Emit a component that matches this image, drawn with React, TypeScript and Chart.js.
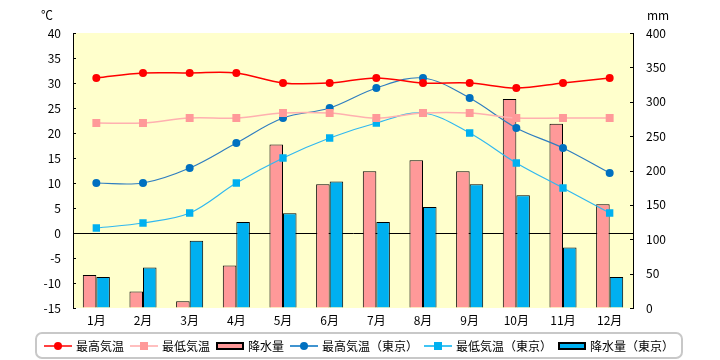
import React, { useEffect, useRef } from "react";
import { Chart, registerables } from "chart.js";

Chart.register(...registerables);

const months = ["1月", "2月", "3月", "4月", "5月", "6月", "7月", "8月", "9月", "10月", "11月", "12月"];
const maxTemp = [31, 32, 32, 32, 30, 30, 31, 30, 30, 29, 30, 31];
const minTemp = [22, 22, 23, 23, 24, 24, 23, 24, 24, 23, 23, 23];
const rain = [48, 24, 10, 62, 238, 180, 199, 215, 199, 304, 268, 151];
const tokyoMax = [10, 10, 13, 18, 23, 25, 29, 31, 27, 21, 17, 12];
const tokyoMin = [1, 2, 4, 10, 15, 19, 22, 24, 20, 14, 9, 4];
const tokyoRain = [45, 59, 98, 125, 138, 184, 125, 147, 180, 164, 88, 45];

const seriesNames = ["最高気温", "最低気温", "降水量", "最高気温（東京）", "最低気温（東京）", "降水量（東京）"];

const FONT = '"Noto Sans CJK JP", "Noto Sans", sans-serif';

function makeIcon(kind: string, lineColor: string, fill: string): HTMLCanvasElement {
  const c = document.createElement("canvas");
  c.width = 28;
  c.height = 12;
  const ctx = c.getContext("2d")!;
  if (kind === "bar") {
    ctx.fillStyle = fill;
    ctx.fillRect(1, 3, 26, 6);
    ctx.strokeStyle = "#000";
    ctx.lineWidth = 2;
    ctx.strokeRect(1, 3, 26, 6);
  } else {
    ctx.strokeStyle = lineColor;
    ctx.lineWidth = 1.5;
    ctx.beginPath();
    ctx.moveTo(0, 6);
    ctx.lineTo(28, 6);
    ctx.stroke();
    ctx.fillStyle = fill;
    if (kind === "circle") {
      ctx.beginPath();
      ctx.arc(14, 6, 4, 0, Math.PI * 2);
      ctx.fill();
    } else {
      ctx.fillRect(10, 2, 8, 8);
    }
  }
  return c;
}

const bgPlugin = {
  id: "bgPlugin",
  beforeDraw(chart: any) {
    const { ctx, chartArea } = chart;
    ctx.save();
    ctx.fillStyle = "#FFFFCC";
    ctx.fillRect(chartArea.left, chartArea.top, chartArea.right - chartArea.left, chartArea.bottom - chartArea.top);
    ctx.restore();
  },
  afterDraw(chart: any) {
    const { ctx, chartArea } = chart;
    ctx.save();
    // inward tick marks
    ctx.strokeStyle = "#000";
    ctx.lineWidth = 1;
    const y = chart.scales.y;
    const y1 = chart.scales.y1;
    y.ticks.forEach((t: any) => {
      const p = Math.round(y.getPixelForValue(t.value)) + 0.5;
      ctx.beginPath();
      ctx.moveTo(chartArea.left, p);
      ctx.lineTo(chartArea.left + 3, p);
      ctx.stroke();
    });
    y1.ticks.forEach((t: any) => {
      const p = Math.round(y1.getPixelForValue(t.value)) + 0.5;
      ctx.beginPath();
      ctx.moveTo(chartArea.right - 3, p);
      ctx.lineTo(chartArea.right, p);
      ctx.stroke();
    });
    // unit labels
    ctx.fillStyle = "#000";
    ctx.font = "12px " + FONT;
    ctx.textAlign = "center";
    ctx.textBaseline = "middle";
    ctx.fillText("℃", 47, 15);
    ctx.fillText("mm", 658, 15);
    // legend frame
    const lg = chart.legend;
    if (lg && lg.legendHitBoxes && lg.legendHitBoxes.length) {
      const boxes = lg.legendHitBoxes;
      const l = boxes[0].left - 10;
      const last = boxes[boxes.length - 1];
      const r = last.left + last.width + 8;
      const top = boxes[0].top - 7;
      const h = 25;
      ctx.strokeStyle = "#C8C8C8";
      ctx.lineWidth = 2;
      ctx.beginPath();
      (ctx as any).roundRect(l, top, r - l, h, 6);
      ctx.stroke();
    }
    ctx.restore();
  },
};

export default function App() {
  const ref = useRef<HTMLCanvasElement>(null);
  useEffect(() => {
    const icons = [
      makeIcon("circle", "#FF0000", "#FF0000"),
      makeIcon("square", "#FFAAAA", "#FF9999"),
      makeIcon("bar", "#000", "#FF9999"),
      makeIcon("circle", "#0070C0", "#0070C0"),
      makeIcon("square", "#00B0F0", "#00B0F0"),
      makeIcon("bar", "#000", "#00B0F0"),
    ];
    const chart = new Chart(ref.current!, {
      type: "bar",
      data: {
        labels: months,
        datasets: [
          {
            type: "line",
            label: seriesNames[0],
            data: maxTemp,
            yAxisID: "y",
            borderColor: "#FF0000",
            backgroundColor: "#FF0000",
            borderWidth: 1.5,
            pointStyle: "circle",
            pointRadius: 4,
            pointBorderWidth: 0,
            tension: 0.35,
            order: 0,
          },
          {
            type: "line",
            label: seriesNames[1],
            data: minTemp,
            yAxisID: "y",
            borderColor: "#FFB0B0",
            backgroundColor: "#FF9999",
            borderWidth: 1.5,
            pointStyle: "rect",
            pointRadius: 5.6,
            pointBorderWidth: 0,
            tension: 0.35,
            order: 0,
          },
          {
            type: "bar",
            label: seriesNames[2],
            data: rain,
            yAxisID: "y1",
            backgroundColor: "#FF9999",
            borderColor: "#000",
            borderWidth: 1,
            order: 1,
          },
          {
            type: "line",
            label: seriesNames[3],
            data: tokyoMax,
            yAxisID: "y",
            borderColor: "#2E7DC0",
            backgroundColor: "#0070C0",
            borderWidth: 1.2,
            pointStyle: "circle",
            pointRadius: 4,
            pointBorderWidth: 0,
            tension: 0.35,
            order: 0,
          },
          {
            type: "line",
            label: seriesNames[4],
            data: tokyoMin,
            yAxisID: "y",
            borderColor: "#30B8F0",
            backgroundColor: "#00B0F0",
            borderWidth: 1.2,
            pointStyle: "rect",
            pointRadius: 5.2,
            pointBorderWidth: 0,
            tension: 0.35,
            order: 0,
          },
          {
            type: "bar",
            label: seriesNames[5],
            data: tokyoRain,
            yAxisID: "y1",
            backgroundColor: "#00B0F0",
            borderColor: "#000",
            borderWidth: 1,
            order: 1,
          },
        ] as any,
      },
      options: {
        responsive: false,
        animation: false,
        layout: { padding: { top: 33, left: 0, right: 0, bottom: -2 } },
        datasets: { bar: { barPercentage: 1, categoryPercentage: 0.58 } } as any,
        plugins: {
          tooltip: { enabled: false },
          legend: {
            position: "bottom",
            labels: {
              usePointStyle: true,
              pointStyleWidth: 24,
              padding: 8,
              color: "#000",
              font: { family: FONT, size: 12 },
              generateLabels: (chart: any) =>
                chart.data.datasets.map((ds: any, i: number) => ({
                  text: ds.label,
                  pointStyle: icons[i],
                  datasetIndex: i,
                  hidden: false,
                  fontColor: "#000",
                  lineWidth: 0,
                  strokeStyle: "transparent",
                  fillStyle: "transparent",
                })),
            },
          },
        },
        scales: {
          x: {
            grid: { display: false, drawTicks: false },
            border: { display: false },
            ticks: { color: "#000", padding: 5, font: { family: FONT, size: 12 }, maxRotation: 0, autoSkip: false },
            afterFit: (s: any) => {
              s.height = 24;
            },
          },
          y: {
            position: "left",
            min: -15,
            max: 40,
            ticks: { stepSize: 5, color: "#000", padding: 12, font: { family: FONT, size: 12 } },
            grid: {
              drawTicks: false,
              color: (c: any) => (c.tick && c.tick.value === 0 ? "#000" : "rgba(0,0,0,0)"),
              lineWidth: 1,
            },
            border: { display: true, color: "#000", width: 1 },
            afterFit: (s: any) => {
              s.width = 73;
            },
          },
          y1: {
            position: "right",
            min: 0,
            max: 400,
            ticks: { stepSize: 50, color: "#000", padding: 13, font: { family: FONT, size: 12 } },
            grid: { drawOnChartArea: false, drawTicks: false },
            border: { display: true, color: "#000", width: 1 },
            afterFit: (s: any) => {
              s.width = 87;
            },
          },
        },
      },
      plugins: [bgPlugin],
    });
    return () => chart.destroy();
  }, []);
  return (
    <div style={{ position: "fixed", left: 0, top: 0, width: 720, height: 360, background: "#fff" }}>
      <canvas ref={ref} width={720} height={360} />
    </div>
  );
}
